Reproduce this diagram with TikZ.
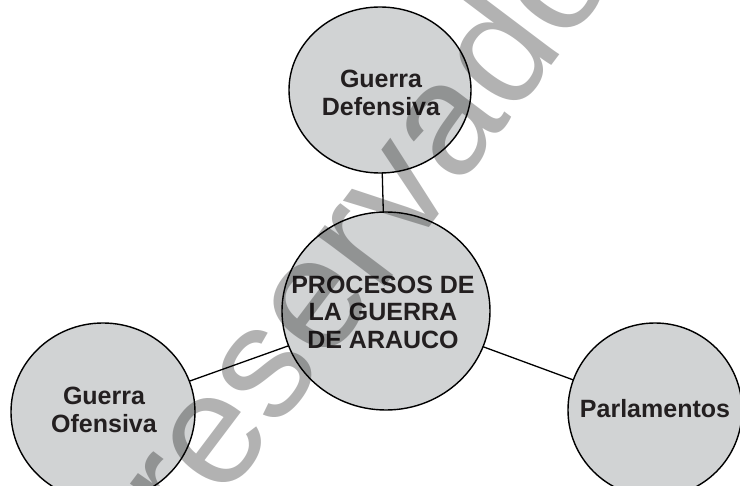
\documentclass[tikz,border=0pt]{standalone}
\usepackage{fontspec}
\setmainfont{Liberation Sans}
\newfontfamily\heavyfont{Liberation Sans}[UprightFont={* Bold}]
\usetikzlibrary{shapes.geometric,backgrounds}
\definecolor{circfill}{HTML}{D1D3D4}
\definecolor{inktext}{HTML}{231F20}
\tikzset{
  bubble/.style={ellipse, draw=black, line width=1.4bp, fill=circfill, inner sep=0pt},
  bubbletext/.style={align=center, text=inktext, inner sep=0pt,
    font=\heavyfont\fontsize{25bp}{27.5bp}\selectfont},
  link/.style={draw=black, line width=1.3bp},
  watermark/.style={text=black, text opacity=0.3, rotate=53, anchor=base west,
    inner sep=0pt, font=\fontsize{160bp}{160bp}\selectfont}
}
\begin{document}
\begin{tikzpicture}[x=1bp,y=-1bp]
\useasboundingbox (0,0) rectangle (740,486);
\clip (0,0) rectangle (740,486);
\node[bubble, minimum width=182bp, minimum height=166bp] (def) at (380,90) {};
\node[bubble, minimum width=208bp, minimum height=198bp] (proc) at (386,311) {};
\node[bubble, minimum width=184bp, minimum height=178bp] (ofe) at (103,412) {};
\node[bubble, minimum width=174bp, minimum height=174bp] (par) at (655,410) {};
\node[bubbletext] (deftext) at (381,93) {Guerra\\Defensiva};
\node[bubbletext] (proctext) at (383,312) {PROCESOS DE\\LA GUERRA\\DE ARAUCO};
\node[bubbletext] (ofetext) at (104,410) {Guerra\\Ofensiva};
\node[bubbletext] (partext) at (655,409) {Parlamentos};
\begin{pgfonlayer}{background}
\fill[white] (0,0) rectangle (740,486);
\draw[link] (def.center) -- (proc.center);
\draw[link] (proc.center) -- (ofe.center);
\draw[link] (proc.center) -- (par.center);
\end{pgfonlayer}
\node[watermark] (wm) at (191,544) {reservado};
\end{tikzpicture}
\end{document}
